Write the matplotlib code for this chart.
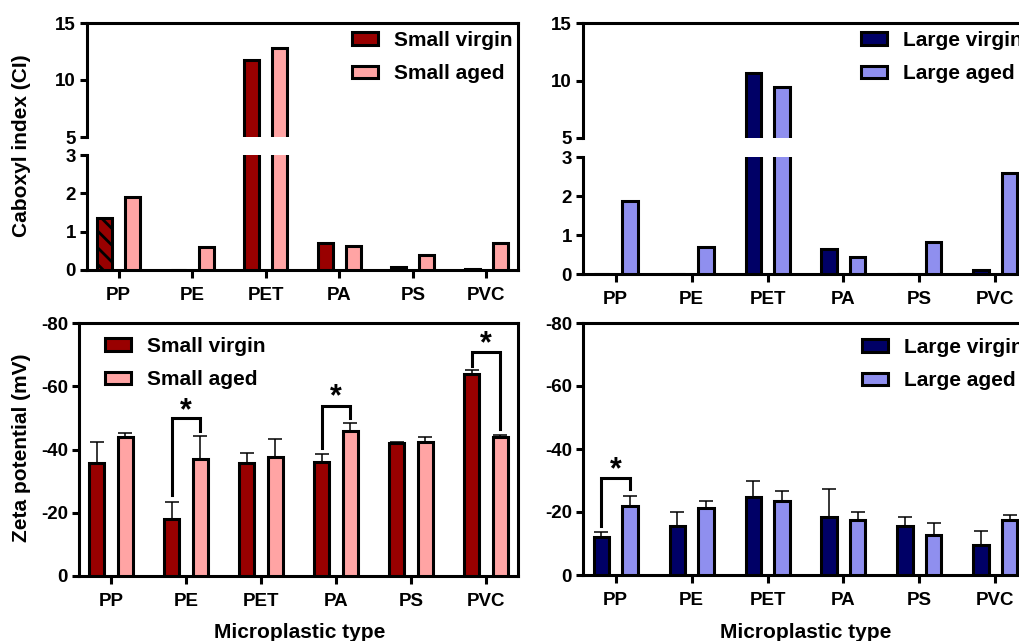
import matplotlib
matplotlib.use('Agg')
import matplotlib.pyplot as plt
import numpy as np

plt.rcParams['font.family'] = ['Liberation Sans', 'DejaVu Sans']
plt.rcParams['font.weight'] = 'bold'
plt.rcParams['axes.labelweight'] = 'bold'
plt.rcParams['axes.unicode_minus'] = False
plt.rcParams['hatch.linewidth'] = 2.0

# ---- data ----
types = ['PP', 'PE', 'PET', 'PA', 'PS', 'PVC']

# carboxyl index
ci_small_virgin = [1.35, 0.0, 11.75, 0.70, 0.08, 0.03]
ci_small_aged = [1.90, 0.60, 12.85, 0.62, 0.38, 0.70]
ci_large_virgin = [0.0, 0.0, 10.65, 0.65, 0.0, 0.10]
ci_large_aged = [1.88, 0.68, 9.40, 0.44, 0.82, 2.58]

# zeta potential (mV) and SD
zeta_small_virgin = [-35.8, -17.9, -35.7, -36.2, -42.0, -63.9]
zeta_small_virgin_sd = [6.5, 5.5, 3.3, 2.4, 0.4, 1.1]
zeta_small_aged = [-44.1, -36.9, -37.6, -45.9, -42.3, -43.9]
zeta_small_aged_sd = [1.0, 7.4, 5.8, 2.6, 1.5, 0.7]
zeta_large_virgin = [-12.0, -15.7, -24.8, -18.4, -15.4, -9.6]
zeta_large_virgin_sd = [1.5, 4.3, 5.0, 8.8, 3.0, 4.4]
zeta_large_aged = [-22.0, -21.4, -23.5, -17.6, -12.8, -17.6]
zeta_large_aged_sd = [3.0, 2.1, 3.1, 2.4, 3.7, 1.6]

# significance brackets: (category, bracket level, left leg end, right leg end, star level)
sig_small = [(1, -50.0, -25.5, -45.7, -54.7),
             (3, -53.8, -40.4, -49.9, -59.0),
             (5, -70.7, -66.5, -46.5, -76.0)]
sig_large = [(0, -30.7, -15.4, -27.2, -36.0)]

small_labels = ['Small virgin', 'Small aged']
large_labels = ['Large virgin', 'Large aged']
small_colors = ['#990000', '#FFA4A4']
large_colors = ['#000066', '#8F8FEF']

W, H = 1020, 641
LW = 2.2
BW = 0.2
OFF = 0.19


def box(x0, y0, x1, y1):
    # pixel box (top-left origin) -> figure fraction
    return [x0 / W, 1 - y1 / H, (x1 - x0) / W, (y1 - y0) / H]


def style_axis(ax):
    for s in ax.spines.values():
        s.set_linewidth(LW)
        s.set_capstyle('projecting')
    ax.tick_params(axis='y', length=5, width=LW, labelsize=13.5, pad=3)
    ax.tick_params(axis='x', length=6, width=LW, labelsize=13.5, pad=6)


def add_legend(ax, handles, labels, x, y):
    ax.legend(handles, labels, loc='upper left', bbox_to_anchor=(x / W, 1 - y / H),
              bbox_transform=fig.transFigure, frameon=False, fontsize=15,
              handlelength=1.25, handleheight=0.55, handletextpad=0.75,
              labelspacing=0.68, borderpad=0, borderaxespad=0)


def ci_panel(xl, xr, y_top, y_brk1, y_brk2, y_bot, virgin, aged, colors, labels, hatch_pp, leg_xy):
    x = np.arange(len(types))
    # frame (right spine runs through the break)
    axf = fig.add_axes(box(xl, y_top, xr, y_bot))
    axf.patch.set_visible(False)
    axf.set_xticks([])
    axf.set_yticks([])
    for k in ['left', 'bottom', 'top']:
        axf.spines[k].set_visible(False)
    axf.spines['right'].set_linewidth(LW)

    up = fig.add_axes(box(xl, y_top, xr, y_brk1))
    lo = fig.add_axes(box(xl, y_brk2, xr, y_bot))
    up.patch.set_visible(False)
    lo.patch.set_visible(False)
    res = []
    for ax in [up, lo]:
        b1 = ax.bar(x - OFF, virgin, width=BW, color=colors[0], edgecolor='k', linewidth=LW, zorder=3)
        b2 = ax.bar(x + OFF, aged, width=BW, color=colors[1], edgecolor='k', linewidth=LW, zorder=3)
        ax.set_xlim(-0.43, 5.43)
        style_axis(ax)
        ax.spines['right'].set_visible(False)
        res.append((b1, b2))
    up.set_ylim(5, 15)
    up.set_yticks([5, 10, 15])
    up.spines['bottom'].set_visible(False)
    up.set_xticks([])
    lo.set_ylim(0, 3)
    lo.set_yticks([0, 1, 2, 3])
    lo.spines['top'].set_visible(False)
    lo.set_xticks(x)
    lo.set_xticklabels(types)
    if hatch_pp:
        res[1][0][0].set_hatch('\\\\')
    add_legend(up, [res[0][0], res[0][1]], labels, leg_xy[0], leg_xy[1])
    return up, lo


def zeta_panel(xl, xr, y_top, y_bot, virgin, v_sd, aged, a_sd, colors, labels, sig, leg_xy):
    x = np.arange(len(types))
    ax = fig.add_axes(box(xl, y_top, xr, y_bot))
    zeros = np.zeros(len(types))
    b1 = ax.bar(x - OFF, virgin, width=BW, color=colors[0], edgecolor='k', linewidth=LW, zorder=3)
    b2 = ax.bar(x + OFF, aged, width=BW, color=colors[1], edgecolor='k', linewidth=LW, zorder=3)
    ax.errorbar(x - OFF, virgin, yerr=[v_sd, zeros], fmt='none', ecolor='k',
                elinewidth=1.1, capsize=5, capthick=1.1, zorder=2)
    ax.errorbar(x + OFF, aged, yerr=[a_sd, zeros], fmt='none', ecolor='k',
                elinewidth=1.1, capsize=5, capthick=1.1, zorder=2)
    for i, lev, le, re, st in sig:
        ax.plot([i - OFF, i - OFF, i + OFF, i + OFF], [le, lev, lev, re], color='k',
                lw=LW, solid_joinstyle='miter', zorder=4)
        # glyph sits high in its text box, so shift it down a little
        ax.annotate('*', (i, st), xytext=(0, -6), textcoords='offset points',
                    ha='center', va='center', fontsize=22, fontweight='bold')
    ax.set_ylim(0, -80)
    ax.set_yticks([0, -20, -40, -60, -80])
    ax.set_xlim(-0.43, 5.43)
    ax.set_xticks(x)
    ax.set_xticklabels(types)
    style_axis(ax)
    add_legend(ax, [b1, b2], labels, leg_xy[0], leg_xy[1])
    return ax


fig = plt.figure(figsize=(W / 100, H / 100), dpi=100)

ci_panel(87, 518, 23, 137, 155, 270, ci_small_virgin, ci_small_aged,
         small_colors, small_labels, True, (352, 31))
ci_panel(583, 1028, 23, 138, 157, 274, ci_large_virgin, ci_large_aged,
         large_colors, large_labels, False, (861, 31))
zeta_panel(79, 518, 323, 576, zeta_small_virgin, zeta_small_virgin_sd,
           zeta_small_aged, zeta_small_aged_sd, small_colors, small_labels, sig_small, (105, 337))
zeta_panel(583, 1028, 323, 575, zeta_large_virgin, zeta_large_virgin_sd,
           zeta_large_aged, zeta_large_aged_sd, large_colors, large_labels, sig_large, (862, 338))

fig.text(22 / W, 1 - 146 / H, 'Caboxyl index (CI)', rotation=90, ha='center', va='center', fontsize=15)
fig.text(22 / W, 1 - 448 / H, 'Zeta potential (mV)', rotation=90, ha='center', va='center', fontsize=15)
fig.text(300 / W, 1 - 632 / H, 'Microplastic type', ha='center', va='center', fontsize=15)
fig.text(806 / W, 1 - 632 / H, 'Microplastic type', ha='center', va='center', fontsize=15)

fig.savefig('out.png', dpi=100)
